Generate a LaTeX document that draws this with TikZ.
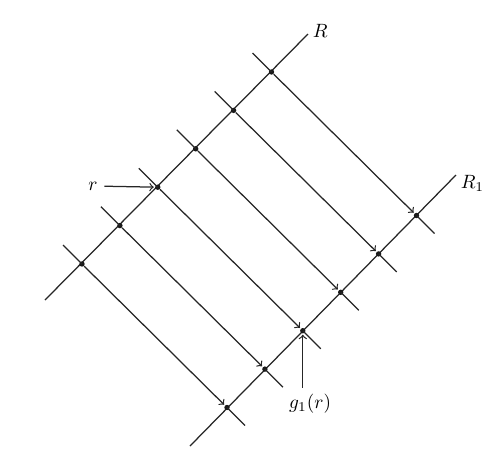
\documentclass[tikz,border=0pt]{standalone}
\usetikzlibrary{calc}
\begin{document}
\begin{tikzpicture}[x=0.52pt,y=-0.52pt,
  ln/.style={line width=0.65pt, black!85},
  pt/.style={circle, fill=black!90, inner sep=0pt, minimum size=2.8pt},
  arr/.style={ln, ->, >=to, shorten >=0.5pt},
  lbl/.style={font=\normalsize}]
\useasboundingbox (0,0) rectangle (495,471);
% lines R and R1
\coordinate (Rs) at (45,300);
\coordinate (Re) at (308,34);
\coordinate (R1s) at (190,446);
\coordinate (R1e) at (456,175);
\draw[ln] (Rs) -- (Re);
\draw[ln] (R1s) -- (R1e);
\node[lbl, anchor=west] (Rl) at (306,31) {$R$};
\node[lbl, anchor=west] (R1l) at (454,183) {$R_1$};
% points
\foreach \i in {1,...,6}{
  \pgfmathsetmacro{\px}{82+37.9*(\i-1)}
  \pgfmathsetmacro{\py}{264-38.4*(\i-1)}
  \node[pt] (p\i) at (\px,\py) {};
  \node[pt] (q\i) at (\px+145,\py+143.5) {};
  \coordinate (pt\i) at (\px-19,\py-19);
  \coordinate (qt\i) at (\px+145+18,\py+143.5+18);
  \draw[ln] (pt\i) -- (p\i.center);
  \draw[ln] (q\i.center) -- (qt\i);
  \draw[arr] (p\i) -- (q\i);
}
% r label
\node[lbl] (r) at (93,186) {$r$};
\draw[arr] (r) -- (p3);
% g1(r) label
\node[lbl] (g) at (310,404) {$g_1(r)$};
\draw[arr] (g.north -| q3) -- (q3);
\end{tikzpicture}
\end{document}
